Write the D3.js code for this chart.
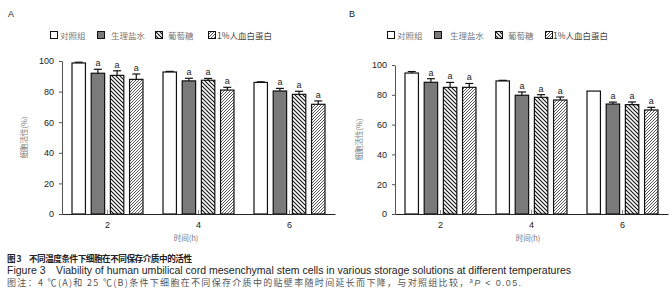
<!DOCTYPE html>
<html><head><meta charset="utf-8">
<script src="https://cdn.jsdelivr.net/npm/d3@7"></script>
<style>body{margin:0;background:#fff}svg{display:block}</style>
</head><body>
<script>
const times = [2, 4, 6];
const seriesNames = ["对照组", "生理盐水", "葡萄糖", "1%人血白蛋白"];
const yTicks = [0, 20, 40, 60, 80, 100];
// Panel A (4 ℃)
const valuesA_control = [98.7, 92.8, 86.0];
const valuesA_saline  = [92.0, 87.0, 80.4];
const valuesA_glucose = [90.6, 87.4, 78.2];
const valuesA_albumin = [88.0, 81.0, 71.7];
const errA_control = [0.5, 0.4, 0.4];
const errA_saline  = [2.6, 1.7, 1.7];
const errA_glucose = [3.0, 1.2, 2.0];
const errA_albumin = [3.5, 1.8, 2.2];
// Panel B (25 ℃)
const valuesB_control = [94.6, 89.3, 82.5];
const valuesB_saline  = [88.4, 79.7, 73.8];
const valuesB_glucose = [85.0, 78.3, 73.4];
const valuesB_albumin = [85.0, 76.5, 69.8];
const errB_control = [1.0, 0.4, 0.0];
const errB_saline  = [2.4, 2.2, 1.3];
const errB_glucose = [3.3, 1.8, 1.8];
const errB_albumin = [2.6, 2.0, 1.8];
const sigMark = [false, true, true, true];

const W = 672, H = 300;
const svg = d3.select("body").append("svg").attr("width", W).attr("height", H);
const defs = svg.append("defs");
const p1 = defs.append("pattern").attr("id","hatchBack").attr("patternUnits","userSpaceOnUse").attr("width",4).attr("height",4);
p1.append("rect").attr("width",4).attr("height",4).attr("fill","#fff");
p1.append("path").attr("d","M-1,-1 L5,5 M-1,3 L1,5 M3,-1 L5,1").attr("stroke","#111").attr("stroke-width",1.1);
const p2 = defs.append("pattern").attr("id","hatchFwd").attr("patternUnits","userSpaceOnUse").attr("width",3).attr("height",3);
p2.append("rect").attr("width",3).attr("height",3).attr("fill","#fff");
p2.append("path").attr("d","M-1,4 L4,-1 M-1,1 L1,-1 M2,4 L4,2").attr("stroke","#444").attr("stroke-width",0.9);
const fills = ["#fff", "#7a7a7a", "url(#hatchBack)", "url(#hatchFwd)"];

function panel(cfg) {
  const g = svg.append("g");
  const x0 = d3.scaleBand().domain(times).range([cfg.x0, cfg.x1]).paddingInner(0.22).paddingOuter(0.11);
  const x1 = d3.scaleBand().domain(d3.range(4)).range([0, x0.bandwidth()]).paddingInner(0.3).paddingOuter(0);
  const y = d3.scaleLinear().domain([0, 100]).range([cfg.yb, cfg.yt]);

  g.append("text").attr("x", cfg.lx).attr("y", 17).attr("font-family","Liberation Sans, Arial").attr("font-size",9).attr("fill","#222").text(cfg.label);

  // legend
  cfg.leg.forEach((p, i) => {
    g.append("rect").attr("x", p[0] + 0.5).attr("y", 31.5).attr("width", 7).attr("height", 7)
      .attr("fill", fills[i]).attr("stroke", "#111").attr("stroke-width", 1);
    g.append("text").attr("x", p[1]).attr("y", 38.5).attr("font-family","Noto Sans CJK SC, sans-serif")
      .attr("font-size", 8.5).attr("fill", i===3 ? "#444" : "#777").text(seriesNames[i]);
  });

  // y axis
  const ya = g.append("g").attr("transform", `translate(${cfg.x0},0)`)
    .call(d3.axisLeft(y).tickValues(yTicks).tickSize(3).tickSizeOuter(0));
  ya.select(".domain").attr("stroke","#555");
  ya.selectAll(".tick line").attr("stroke","#555");
  ya.selectAll("text").attr("font-family","Liberation Sans, Arial").attr("font-size",9).attr("fill","#222").attr("dx", -2);

  g.append("text").attr("transform", `translate(${cfg.yl},${(cfg.yb+cfg.yt)/2}) rotate(-90)`)
    .attr("text-anchor","middle").attr("font-family","Noto Sans CJK SC, sans-serif").attr("font-size",7.5).attr("fill","#777").text("细胞活性(%)");

  // bars
  cfg.vals.forEach((vals, s) => {
    vals.forEach((v, t) => {
      const bx = x0(times[t]) + x1(s);
      const bw = x1.bandwidth();
      g.append("rect").attr("x", bx).attr("y", y(v)).attr("width", bw).attr("height", y(0) - y(v))
        .attr("fill", fills[s]).attr("stroke", "#111").attr("stroke-width", 1.2);
      const e = cfg.errs[s][t];
      const cx = bx + bw / 2;
      if (e > 0) {
        g.append("line").attr("x1", cx).attr("x2", cx).attr("y1", y(v)).attr("y2", y(v + e)).attr("stroke","#111").attr("stroke-width",1.2);
        g.append("line").attr("x1", cx - 4).attr("x2", cx + 4).attr("y1", y(v + e)).attr("y2", y(v + e)).attr("stroke","#111").attr("stroke-width",1.2);
      }
      if (sigMark[s]) {
        g.append("text").attr("x", cx).attr("y", y(v + e) - 3).attr("text-anchor","middle")
          .attr("font-family","Liberation Sans, Arial").attr("font-size",9).attr("fill","#222").text("a");
      }
    });
  });

  // x axis
  const xa = g.append("g").attr("transform", `translate(0,${cfg.yb})`)
    .call(d3.axisBottom(x0).tickSize(-4).tickSizeOuter(0).tickPadding(8));
  xa.select(".domain").attr("stroke","#222").attr("stroke-width",1.2);
  xa.selectAll(".tick line").attr("stroke","#888");
  xa.selectAll("text").attr("font-family","Liberation Sans, Arial").attr("font-size",9).attr("fill","#222");

  g.append("text").attr("x", cfg.xl).attr("y", 241).attr("text-anchor","middle").attr("font-family","Noto Sans CJK SC, sans-serif")
    .attr("font-size",7.5).attr("fill","#777").text("时间(h)");
}

panel({label:"A", lx:8, x0:62, x1:335, yb:214, yt:61, yl:27, xl:186,
  leg:[[50,60],[97,111],[155,168],[208,217]],
  vals:[valuesA_control, valuesA_saline, valuesA_glucose, valuesA_albumin],
  errs:[errA_control, errA_saline, errA_glucose, errA_albumin]});
panel({label:"B", lx:349, x0:395, x1:668, yb:214, yt:65, yl:362, xl:528,
  leg:[[387,397],[434,450],[495,508],[545,553]],
  vals:[valuesB_control, valuesB_saline, valuesB_glucose, valuesB_albumin],
  errs:[errB_control, errB_saline, errB_glucose, errB_albumin]});

// captions
svg.append("text").attr("x",7).attr("y",262).attr("font-family","Noto Sans CJK SC, sans-serif").attr("font-size",8.6).attr("font-weight","bold").attr("fill","#222")
  .attr("textLength",185).attr("lengthAdjust","spacing")
  .text("图 3\u2002\u2002不同温度条件下细胞在不同保存介质中的活性");
svg.append("text").attr("x",7).attr("y",274).attr("font-family","Liberation Sans, Arial").attr("font-size",10).attr("fill","#222")
  .attr("textLength",564).attr("lengthAdjust","spacingAndGlyphs")
  .text("Figure 3\u2002\u2002Viability of human umbilical cord mesenchymal stem cells in various storage solutions at different temperatures");
const c3 = svg.append("text").attr("x",7).attr("y",286).attr("font-family","Noto Sans CJK SC, sans-serif").attr("font-size",9).attr("fill","#555")
  .attr("textLength",514).attr("lengthAdjust","spacing");
c3.append("tspan").text("图注：4 ℃(A)和 25 ℃(B)条件下细胞在不同保存介质中的贴壁率随时间延长而下降，与对照组比较，");
c3.append("tspan").attr("font-size",6).attr("dy",-3).text("a");
c3.append("tspan").attr("dy",3).attr("font-family","Liberation Sans, Arial").attr("font-style","italic").text("P");
c3.append("tspan").attr("font-family","Liberation Sans, Arial").text(" < 0.05.");
</script>
</body></html>
